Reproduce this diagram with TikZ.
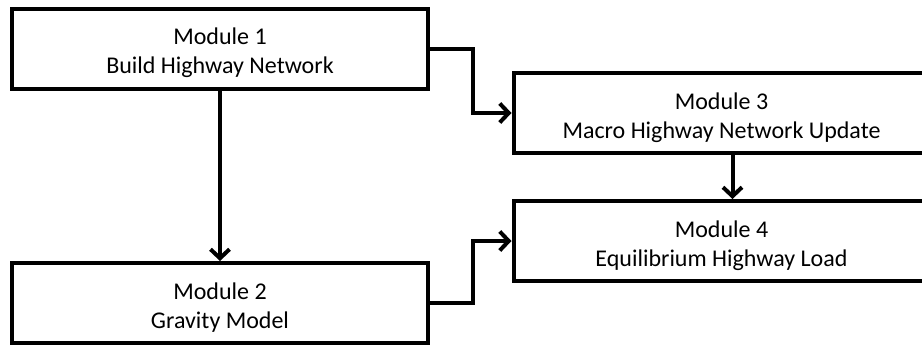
\documentclass[tikz,border=0pt]{standalone}
\usepackage{fontspec}
\setmainfont{Carlito}
\usetikzlibrary{arrows.meta}
\newcommand{\toplift}{\rule{0pt}{26pt}}
\begin{document}
\begin{tikzpicture}[x=1pt,y=-1pt,
  modbox/.style={draw=black, line width=4pt, rectangle, minimum width=416pt, minimum height=80pt,
    inner sep=0pt, align=center, font=\fontsize{24}{29}\selectfont, fill=white},
  arr/.style={draw=black, line width=4pt, -{Straight Barb[length=9pt,width=19pt]}}]
\useasboundingbox (0,0) rectangle (922,346);
\node[modbox] (m1) at (220,48.5) {\toplift Module 1\\Build Highway Network};
\node[modbox] (m2) at (220,303) {\toplift Module 2\\Gravity Model};
\node[modbox] (m3) at (721.5,113) {\toplift Module 3\\Macro Highway Network Update};
\node[modbox] (m4) at (721.5,241) {\toplift Module 4\\Equilibrium Highway Load};
\draw[arr] (m1.south) -- (m2.north);
\draw[arr] (m1.east) -- ++(43,0) |- (m3.west);
\draw[arr] ([xshift=11pt]m3.south) -- ([xshift=11pt]m4.north);
\draw[arr] (m2.east) -- ++(43,0) |- (m4.west);
\end{tikzpicture}
\end{document}
